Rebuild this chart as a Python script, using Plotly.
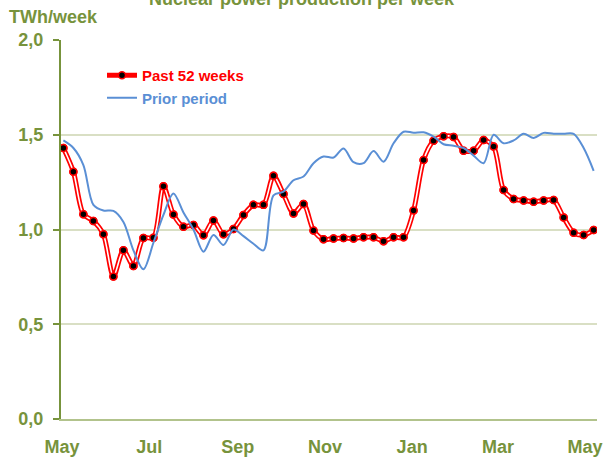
import pandas as pd
import plotly.graph_objs as go

# weekly nuclear production, TWh/week
first_week = '2011-05-02'
past_52_weeks = [1.43, 1.305, 1.08, 1.045, 0.975, 0.752, 0.89, 0.808, 0.955, 0.957,
                 1.228, 1.079, 1.015, 1.024, 0.970, 1.048, 0.975, 1.003, 1.077, 1.130,
                 1.130, 1.283, 1.187, 1.085, 1.135, 0.995, 0.948, 0.953, 0.955, 0.953,
                 0.959, 0.959, 0.938, 0.959, 0.959, 1.100, 1.367, 1.468, 1.492, 1.488,
                 1.416, 1.415, 1.472, 1.438, 1.208, 1.161, 1.153, 1.147, 1.153, 1.156,
                 1.063, 0.983, 0.971, 0.997]
prior_period = [1.47, 1.43, 1.34, 1.13, 1.10, 1.098, 1.04, 0.89, 0.79, 0.93,
                1.077, 1.19, 1.09, 1.00, 0.883, 0.971, 0.918, 1.00, 0.965, 0.925,
                0.89, 1.18, 1.20, 1.26, 1.28, 1.35, 1.385, 1.38, 1.428, 1.355,
                1.35, 1.414, 1.358, 1.455, 1.516, 1.511, 1.513, 1.49, 1.45, 1.442,
                1.43, 1.39, 1.35, 1.50, 1.455, 1.47, 1.505, 1.483, 1.51, 1.505,
                1.505, 1.505, 1.43, 1.31]
y_tick_vals = [0, 0.5, 1.0, 1.5, 2.0]
y_tick_text = ['0,0', '0,5', '1,0', '1,5', '2,0']

weeks = pd.date_range(first_week, periods=len(past_52_weeks), freq='7D')

OLIVE = '#77933C'
RED = '#FF0000'
BLUE = '#5A8FD5'
FONT = 'Liberation Sans, Arial, sans-serif'

# red double line: thick red, thin white centre, then markers on top
trace_past = go.Scatter(
    x=weeks, y=past_52_weeks,
    mode='lines+markers',
    name='<span style="color:#FF0000">Past 52 weeks</span>',
    line=dict(color=RED, width=5, shape='spline', smoothing=0.8),
    marker=dict(color='black', size=7, line=dict(color=RED, width=1.5))
)
trace_past_inner = go.Scatter(
    x=weeks, y=past_52_weeks,
    mode='lines', showlegend=False,
    line=dict(color='white', width=1.6, shape='spline', smoothing=0.8)
)
trace_past_markers = go.Scatter(
    x=weeks, y=past_52_weeks,
    mode='markers', showlegend=False,
    marker=dict(color='black', size=7, line=dict(color=RED, width=1.5))
)
trace_prior = go.Scatter(
    x=weeks, y=prior_period,
    mode='lines',
    name='<span style="color:#5A8FD5">Prior period</span>',
    line=dict(color=BLUE, width=2, shape='spline', smoothing=0.9)
)

layout = go.Layout(
    width=605, height=461,
    paper_bgcolor='white', plot_bgcolor='white',
    font=dict(family=FONT, color=OLIVE, weight='bold'),
    xaxis=dict(
        range=['2011-04-30 08:00', '2012-05-09 08:00'],
        tick0='2011-05-01', dtick='M2', tickformat='%b',
        tickfont=dict(size=18, color=OLIVE, weight='bold'),
        showgrid=False, showline=True, linecolor='#B2C38C', linewidth=1.5,
        ticks='', ticklabelstandoff=11, zeroline=False, automargin=False
    ),
    yaxis=dict(
        range=[0, 2],
        tickvals=y_tick_vals, ticktext=y_tick_text,
        tickfont=dict(size=18, color=OLIVE, weight='bold'),
        showgrid=True, gridcolor='#D9DFC4', gridwidth=1.5,
        showline=True, linecolor=OLIVE, linewidth=2,
        ticks='outside', ticklen=6, tickcolor=OLIVE, tickwidth=1.5,
        ticklabelstandoff=6, zeroline=False, automargin=False
    ),
    legend=dict(x=(102 - 61) / 536, xanchor='left', y=(419 - 59) / 379, yanchor='top',
                font=dict(size=15, weight='bold'), bgcolor='rgba(0,0,0,0)',
                tracegroupgap=0, itemwidth=30),
    annotations=[
        # title sits partly above the page edge, as in the source image
        dict(text='Nuclear power production per week', xref='paper', yref='paper',
             x=(302 - 61) / 536, y=(419 + 1) / 379, xanchor='center', yanchor='middle',
             showarrow=False, font=dict(size=18, color=OLIVE, weight='bold')),
        dict(text='TWh/week', xref='paper', yref='paper',
             x=(53.7 - 61) / 536, y=(419 - 16.7) / 379, xanchor='center', yanchor='middle',
             showarrow=False, font=dict(size=18, color=OLIVE, weight='bold'))
    ],
    margin=dict(l=61, r=8, t=40, b=42)
)

fig = go.Figure(data=[trace_past, trace_past_inner, trace_past_markers, trace_prior], layout=layout)
fig.write_html('out.html', config={'displayModeBar': False},
               post_script="document.body.style.margin='0px';")
